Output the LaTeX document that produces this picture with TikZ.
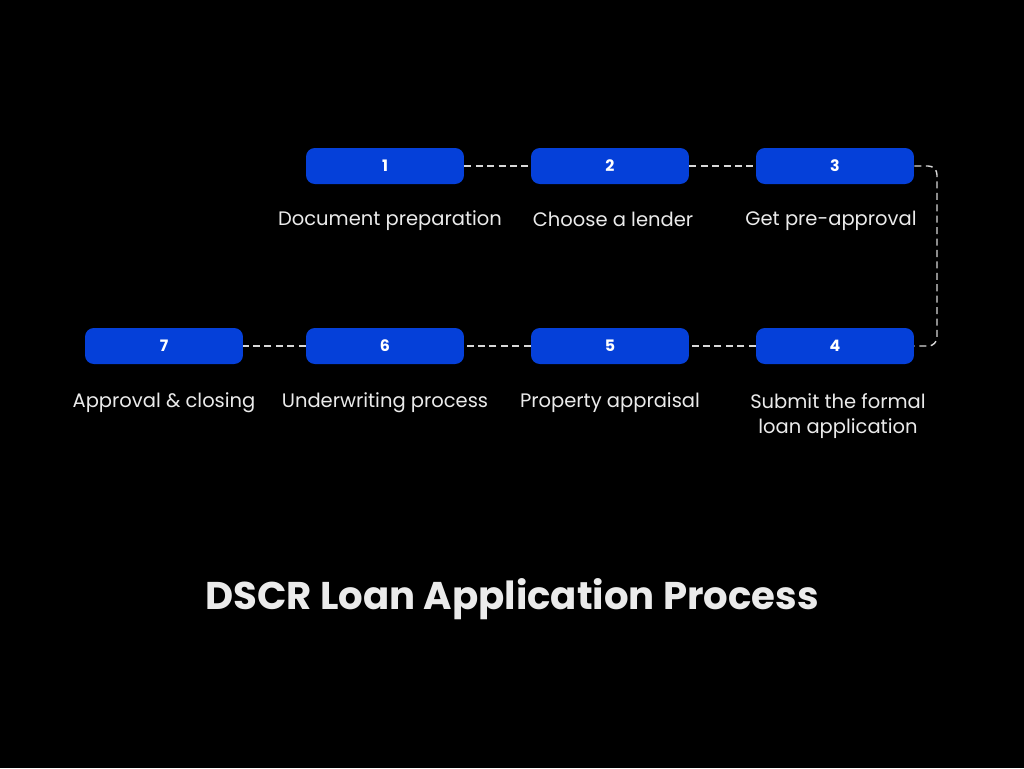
\documentclass[tikz,border=0pt]{standalone}
\usepackage{fontspec}
\setmainfont{Poppins}
\usetikzlibrary{positioning}
\definecolor{stepblue}{HTML}{0540D9}
\definecolor{linkgray}{HTML}{D8D8D8}
\tikzset{
  stepbox/.style={fill=stepblue, rounded corners=5pt, minimum width=3.16cm,
    minimum height=0.72cm, text=white, font=\bfseries\fontsize{9}{10}\selectfont},
  steplabel/.style={text=white!92!black, font=\fontsize{11.1}{14.5}\selectfont, align=center},
  link/.style={draw=linkgray, dashed, dash pattern=on 4pt off 2.5pt, line width=0.8pt}
}
\begin{document}
\begin{tikzpicture}[x=0.02cm, y=-0.02cm]
    \fill[black] (0,0) rectangle (1024,768);
    % top row
    \node[stepbox] (s1) at (385,166) {1};
    \node[stepbox] (s2) at (610,166) {2};
    \node[stepbox] (s3) at (835,166) {3};
    % bottom row
    \node[stepbox] (s4) at (835,346) {4};
    \node[stepbox] (s5) at (610,346) {5};
    \node[stepbox] (s6) at (385,346) {6};
    \node[stepbox] (s7) at (164,346) {7};
    % labels
    \node[steplabel] (l1) at (390,221) {Document preparation};
    \node[steplabel] (l2) at (613,219) {Choose a lender};
    \node[steplabel] (l3) at (831,221) {Get pre-approval};
    \node[steplabel, anchor=north] (l4) at (838,387) {Submit the formal\\loan application};
    \node[steplabel] (l5) at (610,403) {Property appraisal};
    \node[steplabel] (l6) at (385,403) {Underwriting process};
    \node[steplabel] (l7) at (164,403) {Approval \& closing};
    % connectors
    \draw[link] (s1) -- (s2);
    \draw[link] (s2) -- (s3);
    \coordinate (turn) at (937,0);
    \draw[link, rounded corners=5pt] (s3.east) -| (turn |- s3.south) -- (turn |- s4.north) |- (s4.east);
    \draw[link] (s4) -- (s5);
    \draw[link] (s5) -- (s6);
    \draw[link] (s6) -- (s7);
    % title
    \node[text=white!92!black, font=\bfseries\fontsize{22}{26}\selectfont] (title) at (512,599) {DSCR Loan Application Process};
\end{tikzpicture}
\end{document}
